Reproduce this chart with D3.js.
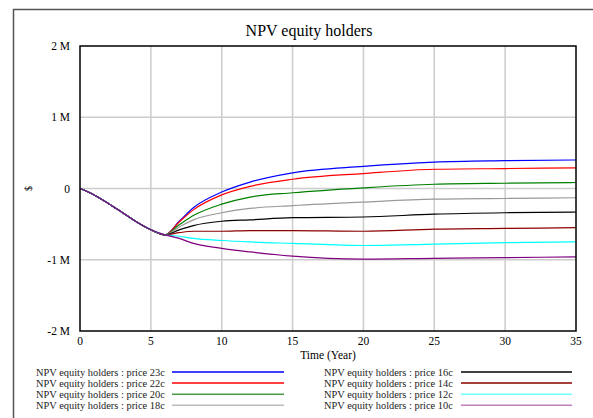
<!DOCTYPE html>
<html>
<head>
<meta charset="utf-8">
<script src="https://cdn.jsdelivr.net/npm/d3@7"></script>
<style>
  body { margin: 0; background: #fff; }
</style>
</head>
<body>
<div id="chart"></div>
<script>
// Tidpunkter (år) där värdena är avlästa
const times = [0, 1, 2, 3, 4, 5, 6, 7, 8, 10, 12, 15, 20, 25, 30, 35];

// Gemensam del fram till år 6 (alla serier ligger på varandra)
const base = [0, -0.09, -0.21, -0.34, -0.47, -0.58, -0.65];

// Värden efter år 6 (miljoner $), t = 7, 8, 10, 12, 15, 20, 25, 30, 35
const price23 = [-0.46, -0.27, -0.05, 0.09, 0.22, 0.31, 0.37, 0.39, 0.40];
const price22 = [-0.47, -0.30, -0.09, 0.03, 0.13, 0.21, 0.27, 0.28, 0.29];
const price20 = [-0.51, -0.38, -0.22, -0.12, -0.06, 0.01, 0.06, 0.074, 0.084];
const price18 = [-0.54, -0.44, -0.34, -0.28, -0.24, -0.19, -0.15, -0.14, -0.13];
const price16 = [-0.58, -0.52, -0.46, -0.44, -0.41, -0.40, -0.36, -0.34, -0.33];
const price14 = [-0.62, -0.60, -0.60, -0.59, -0.59, -0.60, -0.57, -0.56, -0.55];
const price12 = [-0.67, -0.70, -0.73, -0.75, -0.77, -0.80, -0.78, -0.76, -0.75];
const price10 = [-0.70, -0.77, -0.84, -0.89, -0.95, -0.99, -0.98, -0.97, -0.96];

const seriesNames = [
  "NPV equity holders : price 23c",
  "NPV equity holders : price 22c",
  "NPV equity holders : price 20c",
  "NPV equity holders : price 18c",
  "NPV equity holders : price 16c",
  "NPV equity holders : price 14c",
  "NPV equity holders : price 12c",
  "NPV equity holders : price 10c"
];
const seriesValues = [price23, price22, price20, price18, price16, price14, price12, price10];
const colors = ["#0000ff", "#ff0000", "#008000", "#999999", "#000000", "#8b0000", "#00ffff", "#800080"];
const legendColors = ["#0000ff", "#ff0000", "#4a9a4a", "#bbbbbb", "#000000", "#8b0000", "#70ffff", "#c080c0"];

const xTicks = [0, 5, 10, 15, 20, 25, 30, 35];
const yTicks = [-2, -1, 0, 1, 2];
const yTickLabels = ["-2 M", "-1 M", "0", "1 M", "2 M"];

// Mått
const width = 593, height = 418;
const plot = { left: 80, right: 576, top: 46, bottom: 331 };
const font = "'Liberation Serif', 'Times New Roman', Times, serif";

const svg = d3.select("#chart")
  .append("svg")
  .attr("width", width)
  .attr("height", height)
  .style("font-family", font);

// Yttre ram
svg.append("path")
  .attr("d", `M13.5,${height + 5} V9.5 H${width + 5}`)
  .attr("fill", "none")
  .attr("stroke", "#555")
  .attr("stroke-width", 1.5);

// Titel
svg.append("text")
  .attr("x", 309)
  .attr("y", 36)
  .attr("text-anchor", "middle")
  .style("font-size", "16px")
  .text("NPV equity holders");

// Skalor
const x = d3.scaleLinear().domain([0, 35]).range([plot.left, plot.right]);
const y = d3.scaleLinear().domain([-2, 2]).range([plot.bottom, plot.top]);

// Rutnät
svg.append("g")
  .selectAll("line")
  .data(xTicks.slice(1, -1))
  .join("line")
  .attr("x1", d => x(d)).attr("x2", d => x(d))
  .attr("y1", plot.top).attr("y2", plot.bottom)
  .attr("stroke", "#cccccc")
  .attr("stroke-width", 1.5);

svg.append("g")
  .selectAll("line")
  .data(yTicks.slice(1, -1))
  .join("line")
  .attr("x1", plot.left).attr("x2", plot.right)
  .attr("y1", d => y(d)).attr("y2", d => y(d))
  .attr("stroke", "#cccccc")
  .attr("stroke-width", 1.5);

// Axeltexter
svg.append("g")
  .selectAll("text")
  .data(xTicks)
  .join("text")
  .attr("x", d => x(d))
  .attr("y", 345)
  .attr("text-anchor", "middle")
  .style("font-size", "11.5px")
  .text(d => d);

svg.append("g")
  .selectAll("text")
  .data(yTicks)
  .join("text")
  .attr("x", 70)
  .attr("y", d => y(d) + 4)
  .attr("text-anchor", "end")
  .style("font-size", "11.5px")
  .text((d, i) => yTickLabels[i]);

svg.append("text")
  .attr("x", 328)
  .attr("y", 359)
  .attr("text-anchor", "middle")
  .style("font-size", "11.5px")
  .text("Time (Year)");

svg.append("text")
  .attr("transform", `translate(32,${y(0)}) rotate(-90)`)
  .attr("text-anchor", "middle")
  .style("font-size", "10px")
  .text("$");

// Linjer
const line = d3.line()
  .x(d => x(d[0]))
  .y(d => y(d[1]))
  .curve(d3.curveMonotoneX);

const lines = svg.append("g");
seriesValues.forEach((vals, i) => {
  const full = base.concat(vals);
  const pts = times.map((t, j) => [t, full[j]]);
  lines.append("path")
    .datum(pts)
    .attr("d", line)
    .attr("fill", "none")
    .attr("stroke", colors[i])
    .attr("stroke-width", 1.2);
});

// Ram runt plotytan
svg.append("rect")
  .attr("x", plot.left)
  .attr("y", plot.top)
  .attr("width", plot.right - plot.left)
  .attr("height", plot.bottom - plot.top)
  .attr("fill", "none")
  .attr("stroke", "#000")
  .attr("stroke-width", 1.5);

// Legend
const legend = svg.append("g");
seriesNames.forEach((name, i) => {
  const col = Math.floor(i / 4), row = i % 4;
  const tx = col === 0 ? 36 : 324;
  const lx1 = col === 0 ? 172 : 461;
  const lx2 = col === 0 ? 284 : 572;
  const ly = 372 + row * 11.1;
  legend.append("text")
    .attr("x", tx)
    .attr("y", ly + 3.5)
    .style("font-size", "10.4px")
    .style("fill", "#222")
    .text(name);
  legend.append("line")
    .attr("x1", lx1).attr("x2", lx2)
    .attr("y1", ly).attr("y2", ly)
    .attr("stroke", legendColors[i])
    .attr("stroke-width", 1.5);
});
</script>
</body>
</html>
